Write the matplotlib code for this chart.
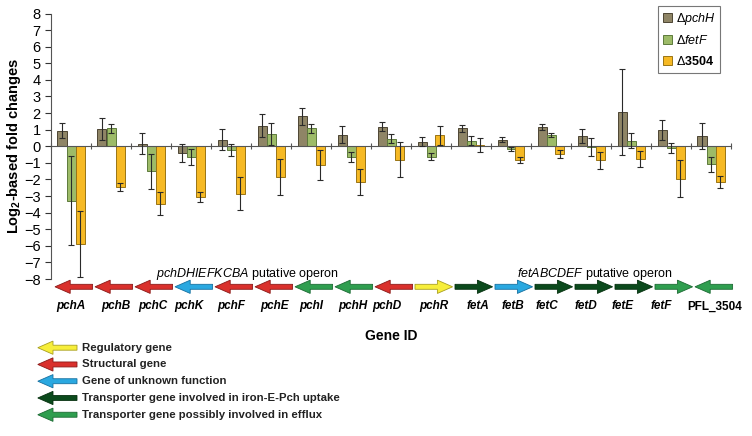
import matplotlib
matplotlib.use('Agg')
import matplotlib.pyplot as plt
from matplotlib.patches import Polygon
import numpy as np

plt.rcParams['font.family'] = ['Liberation Sans', 'DejaVu Sans']
plt.rcParams['mathtext.fontset'] = 'custom'
plt.rcParams['mathtext.rm'] = 'Liberation Sans'
plt.rcParams['mathtext.it'] = 'Liberation Sans:italic'
plt.rcParams['mathtext.bf'] = 'Liberation Sans:bold'

# Data
genes = ['pchA', 'pchB', 'pchC', 'pchK', 'pchF', 'pchE', 'pchI', 'pchH', 'pchD',
         'pchR', 'fetA', 'fetB', 'fetC', 'fetD', 'fetE', 'fetF', 'PFL_3504']
pchH_vals = [0.93, 1.05, 0.15, -0.40, 0.40, 1.25, 1.80, 0.70, 1.19,
             0.28, 1.09, 0.40, 1.15, 0.62, 2.07, 1.00, 0.62]
pchH_err = [0.45, 0.65, 0.62, 0.52, 0.62, 0.72, 0.52, 0.52, 0.30,
            0.25, 0.22, 0.15, 0.17, 0.41, 2.60, 0.60, 0.80]
fetF_vals = [-3.27, 1.09, -1.50, -0.66, -0.22, 0.73, 1.07, -0.65, 0.45,
             -0.62, 0.34, -0.16, 0.69, -0.05, 0.34, -0.08, -1.09]
fetF_err = [2.70, 0.28, 1.05, 0.50, 0.35, 0.68, 0.28, 0.32, 0.28,
            0.22, 0.25, 0.12, 0.13, 0.53, 0.46, 0.30, 0.45]
d3504_vals = [-5.88, -2.45, -3.47, -3.05, -2.87, -1.85, -1.13, -2.13, -0.82,
              0.65, 0.08, -0.82, -0.48, -0.85, -0.77, -1.95, -2.15]
d3504_err = [2.00, 0.25, 0.70, 0.30, 1.00, 1.10, 0.88, 0.78, 1.05,
             0.60, 0.40, 0.17, 0.23, 0.52, 0.50, 1.10, 0.36]

# gene category and orientation for the gene map
gene_type = ['struct', 'struct', 'struct', 'unknown', 'struct', 'struct', 'efflux', 'efflux', 'struct',
             'reg', 'uptake', 'unknown', 'uptake', 'uptake', 'uptake', 'efflux', 'efflux']
gene_dir = [-1, -1, -1, -1, -1, -1, -1, -1, -1, 1, 1, 1, 1, 1, 1, 1, -1]

type_names = ['reg', 'struct', 'unknown', 'uptake', 'efflux']
type_labels = ['Regulatory gene', 'Structural gene', 'Gene of unknown function',
               'Transporter gene involved in iron-E-Pch uptake',
               'Transporter gene possibly involved in efflux']
type_colors = {'reg': ('#f7ee3a', '#a89f20'), 'struct': ('#d9302c', '#8a1a18'),
               'unknown': ('#2aa8e0', '#1670a0'), 'uptake': ('#0b4a1c', '#06300f'),
               'efflux': ('#2f9e4f', '#1c6a33')}

series = [('pchH', pchH_vals, pchH_err, '#8f8566', '#4e4634'),
          ('fetF', fetF_vals, fetF_err, '#9dbb68', '#5d7a3c'),
          ('3504', d3504_vals, d3504_err, '#f6b924', '#9a7415')]

# small horizontal nudges of the gene names (layout only, in group widths)
label_shift = [0, 0.12, 0.05, -0.05, 0, 0.1, 0, 0.05, -0.1,
               0.07, 0.17, 0.04, -0.09, -0.12, -0.2, -0.25, 0.1]


def draw_arrow(ax, x0, x1, y, direction, face, edge):
    # gene arrow in data units; head at the end given by direction
    head = 0.38
    hh, bh = 0.40, 0.15
    if direction > 0:
        tail, tip = x0, x1
    else:
        tail, tip = x1, x0
    base = tip - direction * head
    pts = [(tail, y - bh), (base, y - bh), (base, y - hh), (tip, y),
           (base, y + hh), (base, y + bh), (tail, y + bh)]
    ax.add_patch(Polygon(pts, closed=True, facecolor=face, edgecolor=edge,
                         linewidth=0.6, clip_on=False, zorder=3))


fig = plt.figure(figsize=(7.52, 4.36), dpi=100)
ax = fig.add_axes([51 / 752, 1 - 279 / 436, 680 / 752, 265.5 / 436])

n = len(genes)
x = np.arange(n) + 0.5
w = 0.225
for k, (name, vals, err, fc, ec) in enumerate(series):
    label = r'$\Delta$' + (r'$\mathit{%s}$' % name if name != '3504' else name)
    ax.bar(x + (k - 1) * w, vals, w, color=fc, edgecolor=ec, linewidth=0.7,
           label=label, zorder=2)
    ax.errorbar(x + (k - 1) * w, vals, yerr=err, fmt='none', ecolor='#2a2a2a',
                elinewidth=0.8, capsize=2.5, capthick=0.8, zorder=3)

ax.set_xlim(0, n)
ax.set_ylim(-8, 8)
ax.set_yticks(np.arange(-8, 9, 1))
ax.tick_params(axis='y', labelsize=10.5, length=4, width=0.8, colors='#333333',
               labelcolor='black')
ax.spines['top'].set_visible(False)
ax.spines['right'].set_visible(False)
ax.spines['left'].set_color('#555555')
ax.spines['bottom'].set_position(('data', 0))
ax.spines['bottom'].set_color('#555555')
ax.set_xticks(np.arange(0, n + 1))
ax.tick_params(axis='x', direction='inout', length=5, width=0.8,
               colors='#555555', labelbottom=False)

ax.set_ylabel(r'Log$_{\mathbf{2}}$-based fold changes', fontsize=10.5,
              fontweight='bold', labelpad=1)

# gene map
for i, g in enumerate(genes):
    face, edge = type_colors[gene_type[i]]
    draw_arrow(ax, i + 0.1, i + 1.04, -8.47, gene_dir[i], face, edge)
    style = 'normal' if g.startswith('PFL') else 'italic'
    ax.text(i + 0.5 + label_shift[i], -9.65, g, ha='center', va='center',
            fontsize=8.5, fontweight='bold', fontstyle=style, clip_on=False)

ax.text(4.9, -7.72, r'$\mathit{pchDHIEFKCBA}$ putative operon', ha='center',
        va='center', fontsize=9, clip_on=False)
ax.text(13.6, -7.72, r'$\mathit{fetABCDEF}$ putative operon', ha='center',
        va='center', fontsize=9, clip_on=False)
ax.text(8.5, -11.45, 'Gene ID', ha='center', va='center', fontsize=10,
        fontweight='bold', clip_on=False)

# gene category legend
for j, t in enumerate(type_names):
    face, edge = type_colors[t]
    yy = -12.14 - j * 1.01
    draw_arrow(ax, -0.33, 0.65, yy, -1, face, edge)
    ax.text(0.78, yy, type_labels[j], ha='left', va='center', fontsize=8.2,
            fontweight='bold', color='#222222', clip_on=False)

leg = ax.legend(loc='upper right', bbox_to_anchor=(0.984, 1.03),
                prop={'weight': 'bold', 'size': 9}, frameon=True, fancybox=False,
                edgecolor='#555555', handlelength=0.7, handleheight=0.7,
                handletextpad=0.3, borderpad=0.4, labelspacing=0.6,
                borderaxespad=0)
leg.get_frame().set_linewidth(0.8)

fig.savefig('out.png', dpi=100)
